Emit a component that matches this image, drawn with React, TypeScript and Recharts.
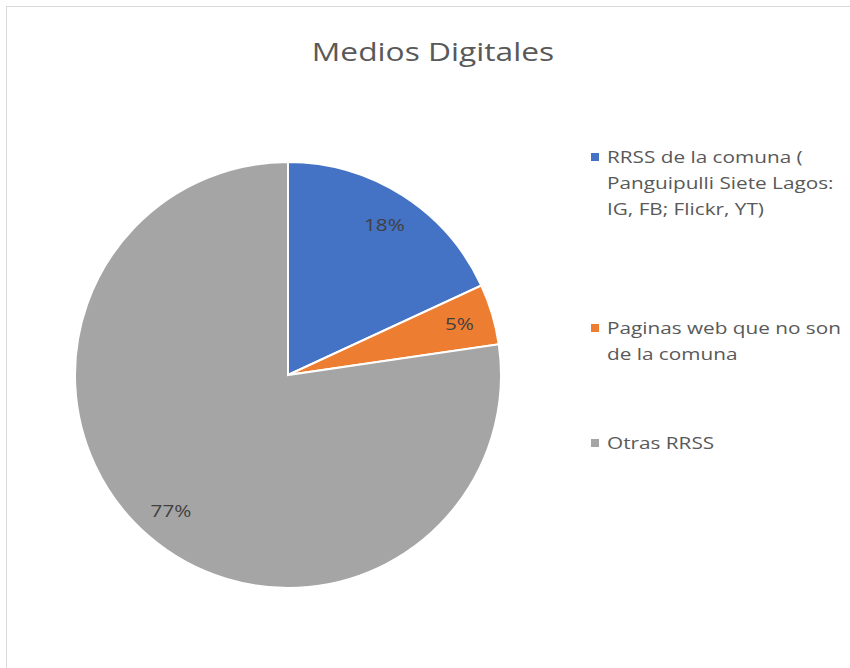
import { PieChart, Pie, Cell } from 'recharts';

const categories = [
  'RRSS de la comuna ( Panguipulli Siete Lagos: IG, FB; Flickr, YT)',
  'Paginas web que no son de la comuna',
  'Otras RRSS',
];
const legendLines = [
  ['RRSS de la comuna (', 'Panguipulli Siete Lagos:', 'IG, FB; Flickr, YT)'],
  ['Paginas web que no son', 'de la comuna'],
  ['Otras RRSS'],
];
const values = [18.1, 4.6, 77.3];
const colors = ['#4472C4', '#ED7D31', '#A5A5A5'];

const data = categories.map((name, i) => ({ name, value: values[i] }));

const FONT = '"Open Sans", Lato, sans-serif';
const RAD = Math.PI / 180;
// the reference text is a bit wider than it is tall
const STRETCH = 1.22;

function renderLabel({ cx, cy, midAngle, outerRadius, percent }: any) {
  const r = outerRadius * 0.84;
  const x = cx + r * Math.cos(-midAngle * RAD);
  const y = cy + r * Math.sin(-midAngle * RAD);
  return (
    <text transform={`translate(${x},${y}) scale(${STRETCH},1)`} fill="#404040" fontSize={17}
      fontFamily={FONT} textAnchor="middle" dominantBaseline="central">
      {`${Math.round(percent * 100)}%`}
    </text>
  );
}

// item tops tuned to the reference spacing
const itemTops = [144, 315, 430];

function LegendBox() {
  return (
    <div style={{ position: 'absolute', left: 591, top: 0, width: 259, fontFamily: FONT }}>
      {legendLines.map((lines, i) => (
        <div key={i} style={{ position: 'absolute', left: 0, top: itemTops[i], display: 'flex' }}>
          <div style={{ width: 8, height: 8, background: colors[i], marginTop: 9, marginRight: 8 }} />
          <div style={{
            color: '#595959', fontSize: 17, lineHeight: '26px',
            transform: `scaleX(${STRETCH})`, transformOrigin: 'left top',
          }}>
            {lines.map((l, j) => <div key={j} style={{ whiteSpace: 'nowrap' }}>{l}</div>)}
          </div>
        </div>
      ))}
    </div>
  );
}

export default function App() {
  return (
    <div style={{ position: 'absolute', left: 0, top: 0, width: 850, height: 668, background: '#fff', overflow: 'hidden' }}>
      <div style={{
        position: 'absolute', left: 6, top: 6, width: 860, height: 680,
        border: '1.5px solid #D9D9D9', boxSizing: 'border-box',
      }} />
      <div style={{
        position: 'absolute', left: 0, top: 33, width: 866, textAlign: 'center',
        fontFamily: FONT, fontSize: 26, color: '#595959',
        transform: `scaleX(${STRETCH})`, transformOrigin: '433px 0',
      }}>
        Medios Digitales
      </div>
      <div style={{ position: 'absolute', left: 0, top: 0 }}>
        <PieChart width={850} height={668} margin={{ top: 0, right: 0, bottom: 0, left: 0 }}>
          <Pie
            data={data}
            dataKey="value"
            nameKey="name"
            cx={288}
            cy={375}
            outerRadius={213}
            startAngle={90}
            endAngle={-270}
            stroke="#fff"
            strokeWidth={2}
            label={renderLabel}
            labelLine={false}
            isAnimationActive={false}
          >
            {data.map((d, i) => <Cell key={d.name} fill={colors[i]} />)}
          </Pie>
        </PieChart>
      </div>
      <LegendBox />
    </div>
  );
}
